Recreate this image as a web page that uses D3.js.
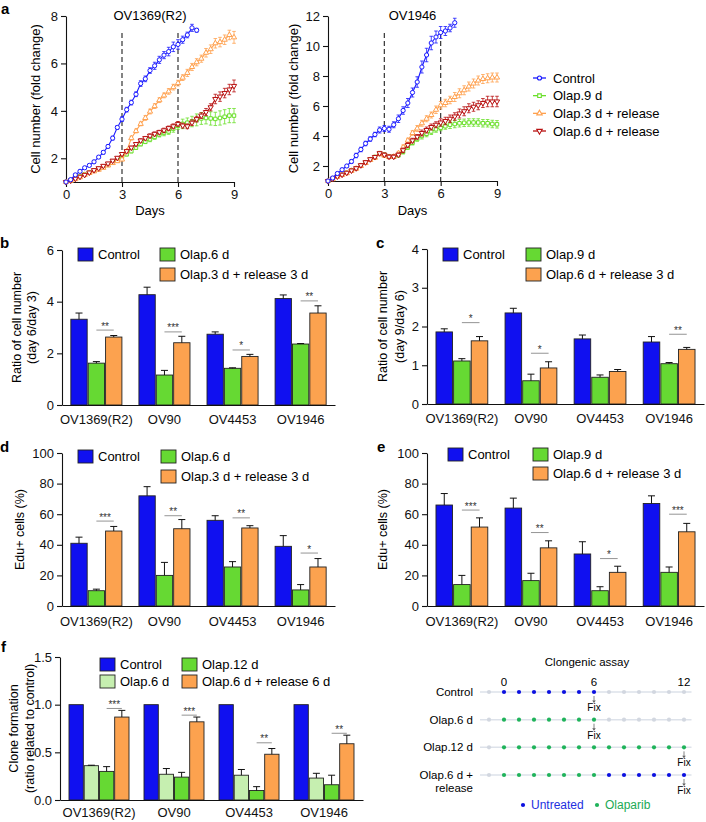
<!DOCTYPE html>
<html>
<head>
<meta charset="utf-8">
<script src="https://cdn.jsdelivr.net/npm/d3@7"></script>
<style>
body { margin: 0; background: #fff; }
svg text { font-family: "Liberation Sans", Arial, Helvetica, sans-serif; }
</style>
</head>
<body>
<div id="fig"></div>
<script>
// ---- data: growth curves (panel a), one point every 6 h ----
var days = [0,0.25,0.5,0.75,1,1.25,1.5,1.75,2,2.25,2.5,2.75,3,3.25,3.5,3.75,4,4.25,4.5,4.75,5,5.25,5.5,5.75,6,6.25,6.5,6.75,7,7.25,7.5,7.75,8,8.25,8.5,8.75,9];

var ov1369Control = [1.0,1.1,1.3,1.45,1.6,1.7,1.85,2.05,2.25,2.5,2.85,3.3,3.65,4.05,4.35,4.7,5.15,5.35,5.7,5.9,6.15,6.35,6.5,6.7,6.8,7.0,7.2,7.5,7.4];
var ov1369Olap9 = [1.0,1.08,1.15,1.25,1.32,1.4,1.48,1.55,1.62,1.72,1.82,1.95,2.07,2.17,2.3,2.45,2.6,2.7,2.8,2.9,3.0,3.07,3.13,3.25,3.37,3.45,3.5,3.55,3.62,3.68,3.7,3.68,3.66,3.7,3.75,3.8,3.8];
var ov1369Rel3 = [1.0,1.05,1.12,1.2,1.3,1.38,1.45,1.52,1.6,1.7,1.8,1.88,1.95,2.3,2.85,3.15,3.45,3.7,3.97,4.2,4.45,4.65,4.82,5.0,5.17,5.4,5.6,5.85,6.05,6.2,6.45,6.6,6.85,6.9,7.0,7.2,7.1];
var ov1369Rel6 = [1.0,1.06,1.14,1.22,1.3,1.4,1.5,1.58,1.68,1.78,1.9,2.02,2.18,2.3,2.45,2.6,2.75,2.85,2.95,3.03,3.1,3.18,3.27,3.35,3.45,3.38,3.35,3.5,3.65,3.8,3.95,4.15,4.5,4.6,4.75,4.9,5.05];

var ov1369ControlErr = [0.02,0.03,0.04,0.05,0.05,0.05,0.06,0.06,0.07,0.07,0.08,0.08,0.1,0.1,0.1,0.1,0.12,0.12,0.12,0.15,0.15,0.15,0.18,0.2,0.2,0.15,0.12,0.15,0.08];
var ov1369Olap9Err = [0.02,0.03,0.03,0.04,0.04,0.04,0.05,0.05,0.05,0.05,0.06,0.06,0.06,0.07,0.07,0.08,0.08,0.08,0.1,0.1,0.1,0.12,0.12,0.15,0.15,0.2,0.2,0.22,0.25,0.25,0.25,0.28,0.28,0.3,0.3,0.3,0.3];
var ov1369Rel3Err = [0.02,0.03,0.03,0.03,0.04,0.04,0.04,0.05,0.05,0.05,0.05,0.06,0.06,0.06,0.08,0.08,0.08,0.1,0.1,0.1,0.1,0.1,0.12,0.12,0.12,0.12,0.15,0.15,0.15,0.15,0.18,0.18,0.2,0.2,0.2,0.2,0.25];
var ov1369Rel6Err = [0.02,0.02,0.03,0.03,0.03,0.04,0.04,0.04,0.05,0.05,0.05,0.05,0.06,0.06,0.06,0.06,0.07,0.07,0.08,0.08,0.08,0.09,0.09,0.1,0.1,0.1,0.1,0.12,0.12,0.12,0.15,0.15,0.2,0.2,0.2,0.22,0.25];

var ov1946Control = [1.0,1.2,1.5,1.75,2.0,2.3,2.7,3.1,3.5,3.8,4.1,4.4,4.5,4.45,4.75,5.15,5.7,6.2,6.9,7.6,8.6,9.4,10.2,10.6,10.9,11.0,11.2,11.55];
var ov1946Olap9 = [1.0,1.15,1.3,1.42,1.55,1.7,1.85,2.05,2.25,2.45,2.6,2.85,2.75,2.62,2.62,2.72,2.95,3.25,3.55,3.8,4.0,4.15,4.3,4.45,4.55,4.65,4.75,4.8,4.85,4.88,4.9,4.9,4.9,4.85,4.85,4.8,4.78];
var ov1946Rel3 = [1.0,1.12,1.28,1.4,1.52,1.68,1.82,2.0,2.2,2.4,2.55,2.8,2.7,2.6,2.62,2.85,3.25,3.7,4.2,4.5,4.85,5.15,5.4,5.75,6.05,6.2,6.4,6.6,6.85,7.05,7.3,7.5,7.7,7.8,7.85,7.9,7.9];
var ov1946Rel6 = [1.0,1.15,1.3,1.42,1.55,1.7,1.85,2.05,2.25,2.45,2.6,2.85,2.75,2.62,2.62,2.75,3.05,3.4,3.7,3.95,4.2,4.4,4.6,4.75,4.9,5.0,5.15,5.3,5.5,5.65,5.85,5.95,6.05,6.2,6.3,6.3,6.3];

var ov1946ControlErr = [0.05,0.05,0.08,0.1,0.1,0.12,0.15,0.15,0.15,0.15,0.15,0.2,0.2,0.2,0.2,0.25,0.25,0.3,0.3,0.35,0.4,0.45,0.45,0.4,0.4,0.3,0.25,0.3];
var ov1946Olap9Err = [0.05,0.05,0.05,0.08,0.08,0.08,0.1,0.1,0.1,0.1,0.1,0.12,0.12,0.12,0.12,0.12,0.15,0.15,0.15,0.15,0.2,0.2,0.2,0.2,0.2,0.2,0.25,0.25,0.25,0.25,0.25,0.25,0.25,0.25,0.25,0.25,0.25];
var ov1946Rel3Err = [0.05,0.05,0.05,0.08,0.08,0.08,0.1,0.1,0.1,0.1,0.1,0.12,0.12,0.12,0.12,0.12,0.15,0.15,0.15,0.2,0.2,0.2,0.2,0.25,0.25,0.25,0.25,0.3,0.3,0.3,0.3,0.3,0.3,0.3,0.3,0.3,0.3];
var ov1946Rel6Err = [0.05,0.05,0.05,0.08,0.08,0.08,0.1,0.1,0.1,0.1,0.1,0.12,0.12,0.12,0.12,0.12,0.15,0.15,0.15,0.15,0.2,0.2,0.2,0.2,0.25,0.25,0.25,0.25,0.3,0.3,0.3,0.3,0.3,0.3,0.35,0.35,0.35];

var curveNames = ["Control", "Olap.9 d", "Olap.3 d + release", "Olap.6 d + release"];

// ---- data: bar panels b-f ----
var cellLines = ["OV1369(R2)", "OV90", "OV4453", "OV1946"];

// b: ratio day6/day3
var bControl = [3.32, 4.27, 2.74, 4.12], bControlErr = [0.24, 0.29, 0.09, 0.14];
var bOlap6 = [1.62, 1.16, 1.42, 2.36], bOlap6Err = [0.06, 0.18, 0.02, 0.02];
var bRel3 = [2.63, 2.41, 1.88, 3.56], bRel3Err = [0.06, 0.25, 0.08, 0.28];
var bSig = ["**", "***", "*", "**"], bSigAt = [2.9, 2.83, 2.13, 4.03];

// c: ratio day9/day6
var cControl = [1.86, 2.35, 1.68, 1.6], cControlErr = [0.08, 0.12, 0.1, 0.14];
var cOlap9 = [1.11, 0.6, 0.69, 1.04], cOlap9Err = [0.06, 0.17, 0.06, 0.03];
var cRel6 = [1.63, 0.93, 0.84, 1.41], cRel6Err = [0.11, 0.16, 0.05, 0.05];
var cSig = ["*", "*", "", "**"], cSigAt = [2.1, 1.31, null, 1.8];

// d: Edu+ cells, day 6
var dControl = [41, 72, 56, 39], dControlErr = [4, 6, 3, 7];
var dOlap6 = [10, 20, 25.5, 10.5], dOlap6Err = [1, 8.5, 3.5, 3.5];
var dRel3 = [49, 50.5, 51, 25.5], dRel3Err = [3, 6, 1.5, 5.5];
var dSig = ["***", "**", "**", "*"], dSigAt = [55.5, 59, 57.6, 34.6];

// e: Edu+ cells, day 9
var eControl = [66, 64, 34, 67], eControlErr = [7.5, 6.5, 8, 5];
var eOlap9 = [14, 16.6, 10, 22], eOlap9Err = [6, 4.8, 2.6, 3.5];
var eRel6 = [51.6, 38, 22, 48.5], eRel6Err = [6, 4.6, 4, 5.5];
var eSig = ["***", "**", "*", "***"], eSigAt = [62.7, 48, 31, 60];

// f: clone formation
var fControl = [1, 1, 1, 1], fControlErr = [0, 0, 0, 0];
var fOlap6 = [0.36, 0.27, 0.26, 0.23], fOlap6Err = [0.005, 0.06, 0.06, 0.05];
var fOlap12 = [0.30, 0.24, 0.10, 0.16], fOlap12Err = [0.05, 0.05, 0.04, 0.1];
var fRel6 = [0.87, 0.82, 0.48, 0.59], fRel6Err = [0.07, 0.05, 0.06, 0.09];
var fSig = ["***", "***", "**", "**"], fSigAt = [0.96, 0.89, 0.6, 0.7];

// ---- data: clonogenic schedule (days -1..12) ----
var schedRows = ["Control", "Olap.6 d", "Olap.12 d", "Olap.6 d +|release"];
var schedDays = [-1,0,1,2,3,4,5,6,7,8,9,10,11,12];
var schedStates = ["guuuuuuugggggg", "gooooooogggggg", "gooooooooooooo", "gooooooouuuuuu"];
var fixDays = [6, 6, 12, 12];
var schedTicks = [0, 6, 12];

// colours
var cBlue = "#1010f0", cGreen = "#66d933", cOrange = "#fca24f", cRed = "#b51212", cLight = "#c6efb0";
var lineBlue = "#1a1aff", lineGreen = "#6adf2a", lineOrange = "#ffa14f", lineRed = "#b81010";

var svg = d3.select("#fig").append("svg")
    .attr("width", 706)
    .attr("height", 822);

function letter(t, x, y) {
    svg.append("text").attr("x", x).attr("y", y)
        .attr("font-size", 15).attr("font-weight", "bold").text(t);
}

function styleAxis(ax, size) {
    ax.selectAll("text").attr("font-size", size).attr("fill", "#111")
        .attr("font-family", "'Liberation Sans', Arial, sans-serif");
    ax.selectAll("path, line").attr("stroke", "#111").attr("stroke-width", 1.1);
}

// ---------- panel a ----------
var symbols = [d3.symbolCircle, d3.symbolSquare, d3.symbolTriangle, d3.symbolTriangle];
var symRot = [0, 0, 0, 180];
var curveColors = [lineBlue, lineGreen, lineOrange, lineRed];

function linePanel(cfg) {
    var x = d3.scaleLinear().domain([0, 9]).range([cfg.left, cfg.right]);
    var y = d3.scaleLinear().domain([1, cfg.yMax]).range([cfg.bottom, cfg.top]);
    var g = svg.append("g");

    [3, 6].forEach(function(d) {
        g.append("line")
            .attr("x1", x(d)).attr("x2", x(d))
            .attr("y1", 33).attr("y2", cfg.bottom)
            .attr("stroke", "#333").attr("stroke-width", 1.2)
            .attr("stroke-dasharray", "5,3");
    });

    var xa = g.append("g")
        .attr("transform", `translate(0, ${cfg.bottom})`)
        .call(d3.axisBottom(x).tickValues([0, 3, 6, 9]).tickFormat(d3.format("d"))
            .tickSize(5).tickPadding(3).tickSizeOuter(0));
    styleAxis(xa, 13);
    var ya = g.append("g")
        .attr("transform", `translate(${cfg.left}, 0)`)
        .call(d3.axisLeft(y).tickValues(cfg.yTicks).tickFormat(d3.format("d"))
            .tickSize(5).tickPadding(3).tickSizeOuter(0));
    styleAxis(ya, 13);

    g.append("text").attr("x", (cfg.left + cfg.right) / 2).attr("y", 20)
        .attr("text-anchor", "middle").attr("font-size", 13).text(cfg.title);
    g.append("text").attr("x", (cfg.left + cfg.right) / 2).attr("y", 215)
        .attr("text-anchor", "middle").attr("font-size", 13).text("Days");
    g.append("text")
        .attr("transform", `translate(${cfg.labelX}, ${(cfg.top + cfg.bottom) / 2}) rotate(-90)`)
        .attr("text-anchor", "middle").attr("dy", "0.35em").attr("font-size", 13)
        .text("Cell number (fold change)");

    // draw order: treated first, control on top
    [1, 2, 3, 0].forEach(function(k) {
        var vals = cfg.series[k], errs = cfg.errs[k];
        var pts = vals.map(function(v, i) { return { d: days[i], v: v, e: errs[i] }; });
        var col = curveColors[k];
        var sg = g.append("g");
        sg.append("path").datum(pts)
            .attr("fill", "none").attr("stroke", col).attr("stroke-width", 1.1)
            .attr("d", d3.line().x(p => x(p.d)).y(p => y(p.v)));
        sg.selectAll(".eb").data(pts).enter().append("path")
            .attr("fill", "none").attr("stroke", col).attr("stroke-width", 0.8)
            .attr("d", function(p) {
                var cx = x(p.d), y1 = y(p.v - p.e), y2 = y(p.v + p.e);
                return `M${cx},${y1}V${y2}M${cx - 1.8},${y1}H${cx + 1.8}M${cx - 1.8},${y2}H${cx + 1.8}`;
            });
        sg.selectAll(".pt").data(pts).enter().append("path")
            .attr("d", d3.symbol().type(symbols[k]).size(k === 0 ? 14 : 12))
            .attr("transform", p => `translate(${x(p.d)}, ${y(p.v)}) rotate(${symRot[k]})`)
            .attr("fill", "#fff").attr("stroke", col).attr("stroke-width", 1);
    });
}

linePanel({
    left: 66, right: 234, top: 16, bottom: 182, yMax: 8, yTicks: [2, 4, 6, 8],
    title: "OV1369(R2)", labelX: 35,
    series: [ov1369Control, ov1369Olap9, ov1369Rel3, ov1369Rel6],
    errs: [ov1369ControlErr, ov1369Olap9Err, ov1369Rel3Err, ov1369Rel6Err]
});
linePanel({
    left: 328, right: 497, top: 16, bottom: 181, yMax: 12, yTicks: [2, 4, 6, 8, 10, 12],
    title: "OV1946", labelX: 293,
    series: [ov1946Control, ov1946Olap9, ov1946Rel3, ov1946Rel6],
    errs: [ov1946ControlErr, ov1946Olap9Err, ov1946Rel3Err, ov1946Rel6Err]
});

// legend for panel a
var legA = d3.scalePoint().domain(curveNames).range([78, 131]);
curveNames.forEach(function(n, k) {
    var ly = legA(n);
    svg.append("line").attr("x1", 533).attr("x2", 546).attr("y1", ly).attr("y2", ly)
        .attr("stroke", curveColors[k]).attr("stroke-width", 1.3);
    svg.append("path")
        .attr("d", d3.symbol().type(symbols[k]).size(13))
        .attr("transform", `translate(539.5, ${ly}) rotate(${symRot[k]})`)
        .attr("fill", "#fff").attr("stroke", curveColors[k]).attr("stroke-width", 1.1);
    svg.append("text").attr("x", 553).attr("y", ly).attr("dy", "0.35em")
        .attr("font-size", 13).text(n);
});
letter("a", 1, 14);

// ---------- bar panels ----------
function barPanel(cfg) {
    var names = cfg.series.map(s => s.name);
    var x0 = d3.scaleBand().domain(cellLines).range([cfg.left, cfg.right])
        .paddingInner(cfg.pi).paddingOuter(cfg.po);
    var x1 = d3.scaleBand().domain(names).range([0, x0.bandwidth()]).paddingInner(0.06);
    var y = d3.scaleLinear().domain([0, cfg.yMax]).range([cfg.bottom, cfg.top]);
    var g = svg.append("g");

    cfg.series.forEach(function(s) {
        var rows = s.values.map((v, i) => ({ line: cellLines[i], v: v, e: s.errs[i] }));
        g.selectAll(null).data(rows).enter().append("rect")
            .attr("x", r => x0(r.line) + x1(s.name))
            .attr("y", r => y(r.v))
            .attr("width", x1.bandwidth())
            .attr("height", r => cfg.bottom - y(r.v))
            .attr("fill", s.color).attr("stroke", "#222").attr("stroke-width", 0.9);
        g.selectAll(null).data(rows.filter(r => r.e > 0)).enter().append("path")
            .attr("fill", "none").attr("stroke", "#111").attr("stroke-width", 1)
            .attr("d", function(r) {
                var cx = x0(r.line) + x1(s.name) + x1.bandwidth() / 2;
                var yt = y(r.v + r.e);
                return `M${cx},${y(r.v)}V${yt}M${cx - 3.5},${yt}H${cx + 3.5}`;
            });
    });

    // significance marks between the two treated groups
    var a = names[cfg.sigFrom], b = names[cfg.sigTo];
    cellLines.forEach(function(line, i) {
        if (!cfg.sig[i]) return;
        var xa = x0(line) + x1(a) + x1.bandwidth() / 2;
        var xb = x0(line) + x1(b) + x1.bandwidth() / 2;
        var ys = y(cfg.sigAt[i]);
        g.append("line").attr("x1", xa).attr("x2", xb).attr("y1", ys).attr("y2", ys)
            .attr("stroke", "#888").attr("stroke-width", 0.9);
        g.append("text").attr("x", (xa + xb) / 2).attr("y", ys - 0.5)
            .attr("text-anchor", "middle").attr("font-size", 10).attr("fill", "#333")
            .text(cfg.sig[i]);
    });

    var ya = g.append("g").attr("transform", `translate(${cfg.left}, 0)`)
        .call(d3.axisLeft(y).tickValues(cfg.yTicks).tickFormat(cfg.fmt || d3.format("d"))
            .tickSize(5).tickPadding(3).tickSizeOuter(0));
    styleAxis(ya, 13);
    var xa = g.append("g").attr("transform", `translate(0, ${cfg.bottom})`)
        .call(d3.axisBottom(x0).tickSize(0).tickPadding(cfg.labPad).tickSizeOuter(0));
    styleAxis(xa, 13);

    cfg.yLabel.forEach(function(t, i) {
        g.append("text")
            .attr("transform", `translate(${cfg.labelX[i]}, ${(cfg.top + cfg.bottom) / 2}) rotate(-90)`)
            .attr("text-anchor", "middle").attr("dy", "0.35em").attr("font-size", 12.5)
            .text(t);
    });

    cfg.series.forEach(function(s, k) {
        var p = cfg.legend[k];
        g.append("rect").attr("x", p[0]).attr("y", p[1]).attr("width", 15).attr("height", 13)
            .attr("fill", s.color).attr("stroke", "#222").attr("stroke-width", 0.9);
        g.append("text").attr("x", p[0] + 20).attr("y", p[1] + 6.5).attr("dy", "0.35em")
            .attr("font-size", 13).text(s.name);
    });
}

barPanel({
    left: 62, right: 335, top: 250, bottom: 405, pi: 0.25, po: 0.13, yMax: 6, yTicks: [0, 2, 4, 6],
    labPad: 10, labelX: [17, 32], yLabel: ["Ratio of cell number", "(day 6/day 3)"],
    series: [
        { name: "Control", color: cBlue, values: bControl, errs: bControlErr },
        { name: "Olap.6 d", color: cGreen, values: bOlap6, errs: bOlap6Err },
        { name: "Olap.3 d + release 3 d", color: cOrange, values: bRel3, errs: bRel3Err }
    ],
    sigFrom: 1, sigTo: 2, sig: bSig, sigAt: bSigAt,
    legend: [[78, 248], [160, 248], [160, 268]]
});
letter("b", 0, 248);

barPanel({
    left: 427, right: 704, top: 249, bottom: 404, pi: 0.25, po: 0.13, yMax: 4, yTicks: [0, 1, 2, 3, 4],
    labPad: 10, labelX: [383, 400], yLabel: ["Ratio of cell number", "(day 9/day 6)"],
    series: [
        { name: "Control", color: cBlue, values: cControl, errs: cControlErr },
        { name: "Olap.9 d", color: cGreen, values: cOlap9, errs: cOlap9Err },
        { name: "Olap.6 d + release 3 d", color: cOrange, values: cRel6, errs: cRel6Err }
    ],
    sigFrom: 1, sigTo: 2, sig: cSig, sigAt: cSigAt,
    legend: [[443, 248], [526, 248], [526, 268]]
});
letter("c", 376, 248);

barPanel({
    left: 62, right: 335, top: 453, bottom: 606, pi: 0.25, po: 0.13, yMax: 100, yTicks: [0, 20, 40, 60, 80, 100],
    labPad: 11, labelX: [20], yLabel: ["Edu+ cells (%)"],
    series: [
        { name: "Control", color: cBlue, values: dControl, errs: dControlErr },
        { name: "Olap.6 d", color: cGreen, values: dOlap6, errs: dOlap6Err },
        { name: "Olap.3 d + release 3 d", color: cOrange, values: dRel3, errs: dRel3Err }
    ],
    sigFrom: 1, sigTo: 2, sig: dSig, sigAt: dSigAt,
    legend: [[78, 450], [161, 450], [161, 470]]
});
letter("d", 0, 452);

barPanel({
    left: 427, right: 704, top: 453, bottom: 606, pi: 0.25, po: 0.13, yMax: 100, yTicks: [0, 20, 40, 60, 80, 100],
    labPad: 11, labelX: [383], yLabel: ["Edu+ cells (%)"],
    series: [
        { name: "Control", color: cBlue, values: eControl, errs: eControlErr },
        { name: "Olap.9 d", color: cGreen, values: eOlap9, errs: eOlap9Err },
        { name: "Olap.6 d + release 3 d", color: cOrange, values: eRel6, errs: eRel6Err }
    ],
    sigFrom: 1, sigTo: 2, sig: eSig, sigAt: eSigAt,
    legend: [[448, 448], [533, 448], [533, 467]]
});
letter("e", 377, 452);

barPanel({
    left: 60, right: 363, top: 657, bottom: 800, pi: 0.2, po: 0.12, yMax: 1.5, yTicks: [0, 0.5, 1, 1.5],
    fmt: d3.format(".1f"), labPad: 8, labelX: [14, 30],
    yLabel: ["Clone formation", "(ratio related to control)"],
    series: [
        { name: "Control", color: cBlue, values: fControl, errs: fControlErr },
        { name: "Olap.6 d", color: cLight, values: fOlap6, errs: fOlap6Err },
        { name: "Olap.12 d", color: cGreen, values: fOlap12, errs: fOlap12Err },
        { name: "Olap.6 d + release 6 d", color: cOrange, values: fRel6, errs: fRel6Err }
    ],
    sigFrom: 2, sigTo: 3, sig: fSig, sigAt: fSigAt,
    legend: [[100, 658], [100, 675], [182, 658], [182, 675]]
});
letter("f", 1, 652);

// ---------- clonogenic assay schedule ----------
var dayX = d3.scaleLinear().domain([0, 12]).range([504, 684]);
var rowY = d3.scalePoint().domain(schedRows).range([692, 775]);
var stateCol = { g: "#d2d7e0", u: "#0b10e0", o: "#1fb35a" };
var cg = svg.append("g");

cg.append("text").attr("x", 587).attr("y", 666).attr("text-anchor", "middle")
    .attr("font-size", 11.5).text("Clongenic assay");
cg.selectAll(".dt").data(schedTicks).enter().append("text")
    .attr("x", d => dayX(d)).attr("y", 686).attr("text-anchor", "middle")
    .attr("font-size", 11.5).text(d => d);

schedRows.forEach(function(r, i) {
    var ry = rowY(r);
    cg.append("line").attr("x1", dayX(-1.6)).attr("x2", dayX(12.5)).attr("y1", ry).attr("y2", ry)
        .attr("stroke", "#dde2ea").attr("stroke-width", 1.5);
    var st = schedStates[i].split("");
    cg.selectAll(null).data(schedDays).enter().append("circle")
        .attr("cx", d => dayX(d)).attr("cy", ry).attr("r", 2.1)
        .attr("fill", (d, j) => stateCol[st[j]]);
    r.split("|").forEach(function(t, j) {
        cg.append("text").attr("x", 473).attr("y", ry + j * 13).attr("dy", "0.35em")
            .attr("text-anchor", "end").attr("font-size", 11.5).text(t);
    });
    var fx = dayX(fixDays[i]);
    cg.append("line").attr("x1", fx).attr("x2", fx).attr("y1", ry + 4).attr("y2", ry + 10)
        .attr("stroke", "#666").attr("stroke-width", 0.8);
    cg.append("path").attr("d", `M${fx - 1.8},${ry + 8.5}L${fx},${ry + 11}L${fx + 1.8},${ry + 8.5}Z`)
        .attr("fill", "#666");
    cg.append("text").attr("x", fx).attr("y", ry + 19).attr("text-anchor", "middle")
        .attr("font-size", 10).text("Fix");
});

var schedLegend = [{ t: "Untreated", c: "#0b10e0", x: 523 }, { t: "Olaparib", c: "#1fb35a", x: 597 }];
schedLegend.forEach(function(l) {
    cg.append("circle").attr("cx", l.x).attr("cy", 805).attr("r", 2.1).attr("fill", l.c);
    cg.append("text").attr("x", l.x + 8).attr("y", 805).attr("dy", "0.35em")
        .attr("font-size", 12).attr("fill", l.c === "#0b10e0" ? "#2230e0" : "#22aa55").text(l.t);
});
</script>
</body>
</html>
